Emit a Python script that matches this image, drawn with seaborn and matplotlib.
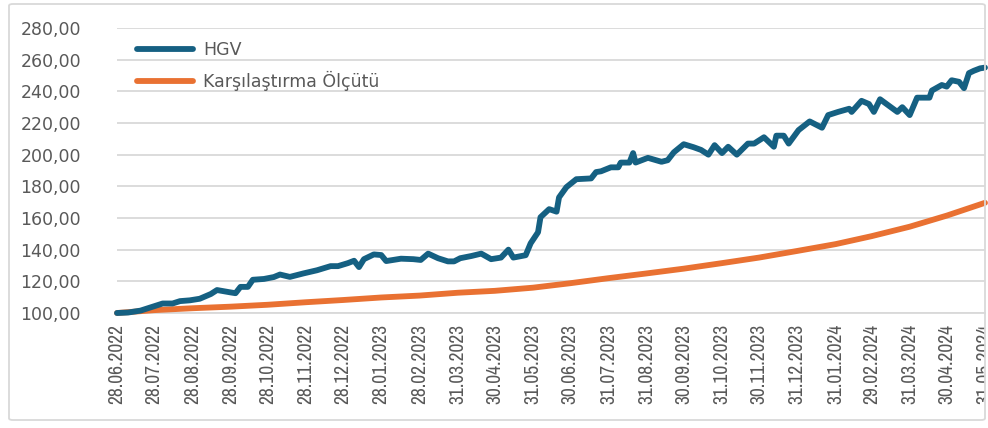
import pandas as pd
import numpy as np
import matplotlib
matplotlib.use("Agg")
import matplotlib.pyplot as plt
import seaborn as sns
from matplotlib import font_manager
from matplotlib.patches import FancyBboxPatch, Rectangle

# ---------------- data ----------------
start_date = "2022-06-28"
tick_labels = ["28.06.2022", "28.07.2022", "28.08.2022", "28.09.2022", "28.10.2022",
               "28.11.2022", "28.12.2022", "28.01.2023", "28.02.2023", "31.03.2023",
               "30.04.2023", "31.05.2023", "30.06.2023", "31.07.2023", "31.08.2023",
               "30.09.2023", "31.10.2023", "30.11.2023", "31.12.2023", "31.01.2024",
               "29.02.2024", "31.03.2024", "30.04.2024", "31.05.2024"]

# benchmark (Karşılaştırma Ölçütü) read at each tick date
bench_values = [100.0, 101.8, 103.0, 104.0, 105.2, 106.8, 108.2, 109.8, 111.0, 112.8,
                114.0, 116.0, 118.8, 122.0, 125.0, 128.0, 131.5, 135.0, 139.2, 143.5,
                148.5, 154.5, 161.5, 169.6]

# HGV: day offset from start date and index value
hgv_days = [0, 9, 19, 29, 37, 45, 51, 59, 67, 76, 81, 92, 96, 100, 106, 110, 119, 127,
            132, 140, 151, 162, 173, 179, 187, 192, 196, 200, 208, 214, 218, 230, 240,
            246, 252, 260, 268, 273, 278, 287, 295, 303, 311, 317, 321, 331, 335, 341,
            343, 350, 356, 358, 364, 372, 384, 388, 392, 400, 406, 408, 415, 418, 420,
            430, 441, 446, 451, 459, 467, 473, 479, 484, 490, 495, 502, 511, 516, 524,
            532, 534, 540, 544, 552, 561, 571, 576, 584, 593, 595, 603, 609, 613, 618,
            625, 632, 636, 642, 648, 658, 660, 668, 672, 676, 682, 686, 690, 694, 699,
            703]
hgv_values = [100.0, 100.3, 101.5, 104.0, 106.0, 106.0, 107.5, 108.0, 109.0, 112.0,
              114.5, 113.0, 112.5, 116.5, 116.5, 121.0, 121.5, 122.7, 124.3, 122.8,
              125.0, 127.0, 129.6, 129.6, 131.5, 133.0, 129.0, 134.0, 137.0, 136.6,
              132.8, 134.3, 134.0, 133.5, 137.5, 134.6, 132.6, 132.6, 134.6, 136.0,
              137.5, 134.0, 135.0, 140.0, 135.0, 136.5, 144.0, 151.0, 160.5, 165.6,
              164.0, 173.0, 179.5, 184.5, 185.0, 189.0, 189.5, 192.0, 192.0, 195.0,
              195.0, 201.0, 195.0, 198.0, 195.5, 196.5, 201.5, 206.6, 204.7, 203.0,
              200.0, 206.0, 201.0, 205.0, 200.0, 207.0, 207.0, 211.0, 205.0, 212.0,
              212.0, 207.0, 215.5, 221.0, 217.0, 225.0, 227.0, 229.0, 227.0, 234.0,
              232.0, 227.0, 235.0, 231.0, 227.0, 230.0, 225.0, 236.0, 236.0, 240.5,
              244.0, 243.0, 247.0, 246.0, 242.0, 251.5, 253.0, 254.5, 255.0]

series_names = ["HGV", "Karşılaştırma Ölçütü"]
y_ticks = [100, 120, 140, 160, 180, 200, 220, 240, 260, 280]

# ---------------- frames ----------------
tick_dates = pd.to_datetime(tick_labels, format="%d.%m.%Y")
hgv_dates = pd.Timestamp(start_date) + pd.to_timedelta(hgv_days, unit="D")
df_hgv = pd.DataFrame({"date": hgv_dates, "value": hgv_values, "series": series_names[0]})
df_bench = pd.DataFrame({"date": tick_dates, "value": bench_values, "series": series_names[1]})

# ---------------- style ----------------
sns.set_style("white")
plt.rcParams["font.family"] = ["DejaVu Sans"]

# a narrow face for the rotated date labels, if one is installed
narrow_name = "DejaVu Sans"
for f in font_manager.fontManager.ttflist:
    if ("Narrow" in f.name or "Condensed" in f.name) and f.style == "normal" \
            and f.weight in (400, "normal", "regular"):
        narrow_name = f.name
        break

C_BLUE = "#156082"
C_ORANGE = "#E97132"
C_TEXT = "#595959"
C_GRID = "#D9D9D9"

W, H = 988, 428
fig = plt.figure(figsize=(W / 100, H / 100), dpi=100)
fig.patch.set_facecolor("white")

# outer chart border
border = FancyBboxPatch((9 / W, 8 / H), (985 - 9) / W, (424 - 8) / H,
                        boxstyle="round,pad=0,rounding_size=0.004",
                        transform=fig.transFigure, facecolor="none",
                        edgecolor=C_GRID, linewidth=1.3, zorder=0)
fig.patches.append(border)

left, right = 117 / W, 985 / W
bottom, top = (H - 313) / H, (H - 28) / H
ax = fig.add_axes([left, bottom, right - left, top - bottom])
ax.set_facecolor("none")

sns.lineplot(data=df_bench, x="date", y="value", ax=ax, color=C_ORANGE,
             linewidth=4.2, label=series_names[1], zorder=3, clip_on=False)
sns.lineplot(data=df_hgv, x="date", y="value", ax=ax, color=C_BLUE,
             linewidth=4.2, label=series_names[0], zorder=4, clip_on=False)

for ln in ax.lines:
    ln.set_solid_capstyle("round")
    ln.set_solid_joinstyle("round")

ax.set_xlim(tick_dates[0], tick_dates[-1])
ax.set_ylim(y_ticks[0], y_ticks[-1])
ax.set_yticks(y_ticks)
ax.set_yticklabels([f"{v:.2f}".replace(".", ",") for v in y_ticks])
ax.set_xticks(tick_dates)
ax.set_xticklabels(tick_labels, rotation=90, family=[narrow_name, "DejaVu Sans"],
                   fontsize=10, color=C_TEXT, ha="center", va="top")
ax.tick_params(axis="y", length=0, pad=26, labelsize=12.5, labelcolor=C_TEXT)
ax.tick_params(axis="x", length=0, pad=8)

# scale the date labels so that each spans ~79 px like the reference
fig.canvas.draw()
renderer = fig.canvas.get_renderer()
lbl0 = ax.get_xticklabels()[0]
h_px = lbl0.get_window_extent(renderer).height
new_size = 10 * 79.0 / h_px
for t in ax.get_xticklabels():
    t.set_fontsize(new_size)

# the last date label is cut by the chart border in the reference
clip_rect = Rectangle((0, 0), 985 / W, 1, transform=fig.transFigure, visible=False)
fig.patches.append(clip_rect)
for t in ax.get_xticklabels():
    t.set_clip_path(clip_rect)

ax.grid(axis="y", color=C_GRID, linewidth=1.3)
ax.grid(axis="x", visible=False)
for s in ["top", "right", "left"]:
    ax.spines[s].set_visible(False)
ax.spines["bottom"].set_color(C_GRID)
ax.spines["bottom"].set_linewidth(1.3)
ax.set_xlabel("")
ax.set_ylabel("")

handles, labels = ax.get_legend_handles_labels()
order = [labels.index(series_names[0]), labels.index(series_names[1])]
leg = ax.legend([handles[i] for i in order], [labels[i] for i in order],
                loc="upper left", bbox_to_anchor=(0.015, 0.978), frameon=False,
                fontsize=12.5, handlelength=3.2, handletextpad=0.6,
                labelspacing=0.68, borderaxespad=0)
for t in leg.get_texts():
    t.set_color(C_TEXT)
for h in leg.get_lines():
    h.set_linewidth(4.2)
    h.set_solid_capstyle("round")

fig.savefig("out.png", dpi=100, facecolor="white")
